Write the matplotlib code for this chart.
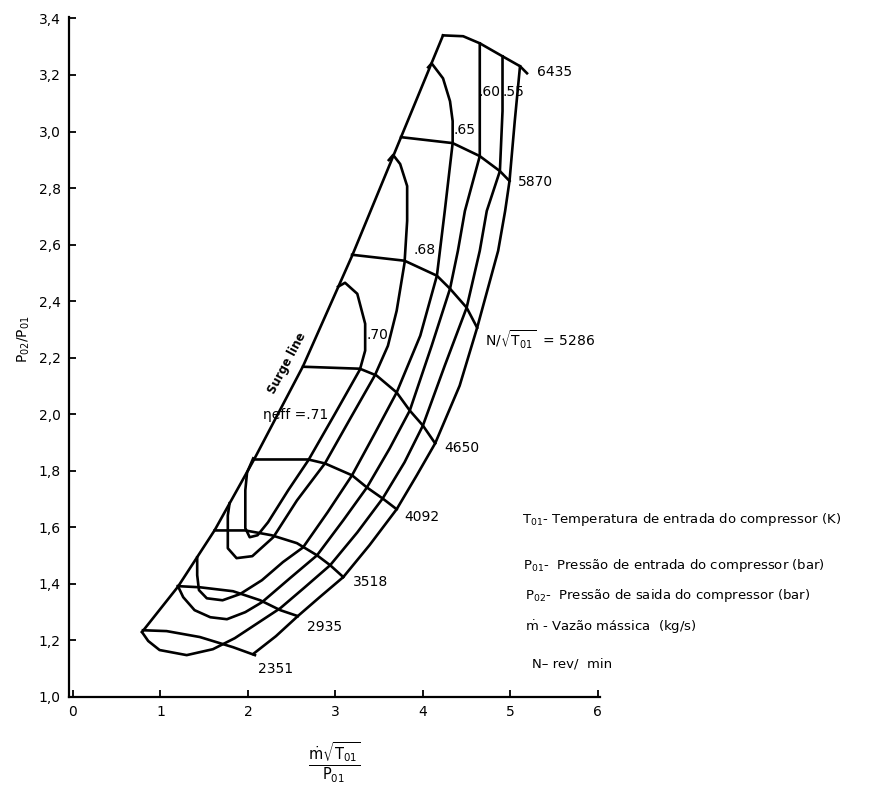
import matplotlib
matplotlib.use("Agg")
import matplotlib.pyplot as plt

plt.rcParams['font.family'] = ['DejaVu Sans']
plt.rcParams['mathtext.fontset'] = 'dejavusans'

# surge line
surge_x = [0.79, 1.20, 1.62, 2.07, 2.63, 3.19, 3.75, 4.23]
surge_y = [1.23, 1.39, 1.59, 1.84, 2.17, 2.56, 2.98, 3.34]

# constant speed lines N/sqrt(T01)
speed_names = ['2351', '2935', '3518', '4092', '4650', '5286', '5870', '6435']
speed_x = [
    [0.80, 1.07, 1.45, 1.83, 2.08],
    [1.20, 1.45, 1.83, 2.14, 2.37, 2.57],
    [1.62, 1.97, 2.27, 2.56, 2.79, 2.94, 3.09],
    [2.07, 2.69, 2.88, 3.19, 3.36, 3.54, 3.70],
    [2.63, 3.28, 3.47, 3.70, 3.85, 4.00, 4.14],
    [3.19, 3.79, 4.16, 4.31, 4.50, 4.62],
    [3.75, 4.34, 4.65, 4.88, 4.99],
    [4.23, 4.46, 4.65, 4.91, 5.11, 5.19],
]
speed_y = [
    [1.236, 1.233, 1.212, 1.176, 1.148],
    [1.392, 1.388, 1.374, 1.342, 1.307, 1.286],
    [1.589, 1.589, 1.572, 1.544, 1.501, 1.466, 1.424],
    [1.840, 1.840, 1.826, 1.784, 1.741, 1.702, 1.664],
    [2.168, 2.161, 2.137, 2.077, 2.013, 1.960, 1.897],
    [2.564, 2.543, 2.490, 2.444, 2.377, 2.306],
    [2.980, 2.959, 2.913, 2.860, 2.825],
    [3.340, 3.337, 3.312, 3.266, 3.231, 3.206],
]

# efficiency contours
eff71_x = [2.06, 1.99, 1.97, 1.97, 2.02, 2.11, 2.23, 2.46, 2.69, 2.99, 3.28, 3.34, 3.34, 3.25, 3.11, 3.03]
eff71_y = [1.844, 1.794, 1.731, 1.597, 1.565, 1.572, 1.618, 1.731, 1.837, 1.999, 2.158, 2.225, 2.320, 2.426, 2.465, 2.451]
eff68_x = [1.79, 1.77, 1.77, 1.87, 2.05, 2.29, 2.56, 2.88, 3.17, 3.45, 3.60, 3.70, 3.79, 3.82, 3.82, 3.74, 3.66, 3.61]
eff68_y = [1.685, 1.642, 1.526, 1.491, 1.498, 1.565, 1.695, 1.826, 1.985, 2.137, 2.242, 2.366, 2.535, 2.684, 2.807, 2.885, 2.917, 2.899]
eff65_x = [1.42, 1.42, 1.44, 1.53, 1.71, 1.91, 2.16, 2.40, 2.63, 2.91, 3.19, 3.45, 3.70, 3.97, 4.16, 4.25, 4.34, 4.34, 4.31, 4.23, 4.10, 4.06]
eff65_y = [1.494, 1.431, 1.378, 1.349, 1.342, 1.364, 1.413, 1.477, 1.529, 1.653, 1.784, 1.932, 2.077, 2.278, 2.490, 2.719, 2.959, 3.037, 3.107, 3.188, 3.241, 3.227]
eff60_x = [1.20, 1.26, 1.39, 1.57, 1.76, 1.97, 2.16, 2.48, 2.79, 3.09, 3.36, 3.62, 3.85, 4.10, 4.31, 4.40, 4.48, 4.65, 4.65, 4.65]
eff60_y = [1.392, 1.353, 1.307, 1.282, 1.275, 1.300, 1.335, 1.420, 1.501, 1.625, 1.741, 1.879, 2.013, 2.242, 2.444, 2.578, 2.719, 2.913, 3.107, 3.312]
eff55_x = [0.79, 0.86, 0.99, 1.30, 1.60, 1.85, 2.11, 2.37, 2.65, 2.94, 3.25, 3.54, 3.79, 4.00, 4.25, 4.50, 4.65, 4.73, 4.88, 4.91, 4.91]
eff55_y = [1.229, 1.198, 1.166, 1.148, 1.169, 1.208, 1.261, 1.314, 1.388, 1.466, 1.582, 1.702, 1.830, 1.960, 2.172, 2.377, 2.578, 2.719, 2.860, 3.072, 3.266]
# line through the ends of the speed lines
edge_x = [2.06, 2.32, 2.57, 2.82, 3.09, 3.39, 3.70, 3.93, 4.14, 4.42, 4.62, 4.86, 4.94, 4.99, 5.05, 5.11]
edge_y = [1.152, 1.215, 1.286, 1.353, 1.424, 1.537, 1.664, 1.784, 1.897, 2.101, 2.306, 2.578, 2.719, 2.825, 3.037, 3.231]

# label positions (left edge, centre) for the speed labels
speed_lab_x = [2.11, 2.67, 3.20, 3.79, 4.25, 4.71, 5.09, 5.30]
speed_lab_y = [1.10, 1.247, 1.406, 1.635, 1.882, 2.264, 2.821, 3.21]

eff_labels = ['.60', '.55', '.65', '.68', '.70', 'ηeff =.71']
eff_lab_x = [4.64, 4.91, 4.35, 3.89, 3.36, 2.17]
eff_lab_y = [3.139, 3.139, 3.005, 2.581, 2.281, 1.999]

notes = [r'$\mathrm{T_{01}}$- Temperatura de entrada do compressor (K)',
         r'$\mathrm{P_{01}}$-  Pressão de entrada do compressor (bar)',
         r'$\mathrm{P_{02}}$-  Pressão de saida do compressor (bar)',
         r'$\dot{\mathrm{m}}$ - Vazão mássica  (kg/s)',
         'N– rev/  min']
notes_y = [0.3405, 0.282, 0.243, 0.2033, 0.1563]
notes_x = [0.596, 0.597, 0.599, 0.599, 0.607]

fig = plt.figure(figsize=(8.76, 7.87), dpi=100)
ax = fig.add_axes([0.0788, 0.1144, 0.6067, 0.8640])

lw = 1.9
ax.plot(surge_x, surge_y, c='k', lw=lw, solid_joinstyle='round')
for xs, ys in zip(speed_x, speed_y):
    ax.plot(xs, ys, c='k', lw=lw, solid_joinstyle='round')
for xs, ys in [(eff71_x, eff71_y), (eff68_x, eff68_y), (eff65_x, eff65_y),
               (eff60_x, eff60_y), (eff55_x, eff55_y), (edge_x, edge_y)]:
    ax.plot(xs, ys, c='k', lw=lw, solid_joinstyle='round')

for i, name in enumerate(speed_names):
    txt = name
    if name == '5286':
        txt = r'N/$\sqrt{\mathrm{T_{01}}}$  = 5286'
    ax.text(speed_lab_x[i], speed_lab_y[i], txt, fontsize=10, ha='left', va='center')

for t, x, y in zip(eff_labels, eff_lab_x, eff_lab_y):
    ax.text(x, y, t, fontsize=10, ha='left', va='center')

ax.text(2.45, 2.18, 'Surge line', fontsize=8.5, fontweight='bold',
        rotation=62, ha='center', va='center', rotation_mode='anchor')

ax.set_xlim(-0.045, 6.03)
ax.set_ylim(1.0, 3.405)
ax.set_xticks(range(7))
ax.set_xticklabels([str(i) for i in range(7)])
yt = [1.0, 1.2, 1.4, 1.6, 1.8, 2.0, 2.2, 2.4, 2.6, 2.8, 3.0, 3.2, 3.4]
ax.set_yticks(yt)
ax.set_yticklabels([('%.1f' % v).replace('.', ',') for v in yt])
ax.tick_params(direction='in', length=5, width=1.3, labelsize=10, pad=6)
for s in ['top', 'right']:
    ax.spines[s].set_visible(False)
for s in ['left', 'bottom']:
    ax.spines[s].set_linewidth(1.6)

fig.text(0.027, 0.569, r'$\mathrm{P_{02}/P_{01}}$', rotation=90, fontsize=10,
         ha='center', va='center')
fig.text(0.382, 0.030, r'$\frac{\dot{\mathrm{m}}\sqrt{\mathrm{T_{01}}}}{\mathrm{P_{01}}}$',
         fontsize=15, ha='center', va='center')

for t, x, y in zip(notes, notes_x, notes_y):
    fig.text(x, y, t, fontsize=9.5, ha='left', va='center')

fig.savefig('out.png', dpi=100)
